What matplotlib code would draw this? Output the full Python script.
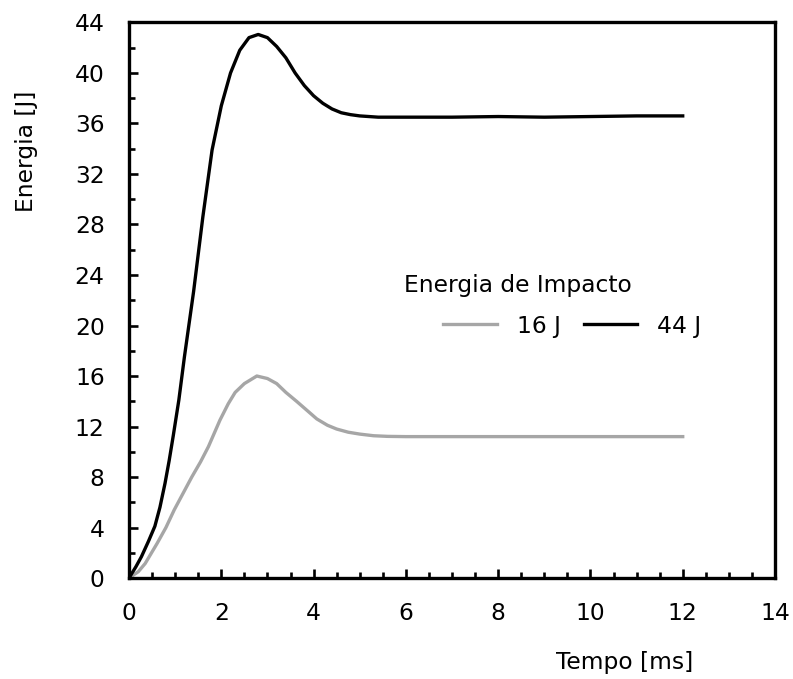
import matplotlib
matplotlib.use("Agg")
import matplotlib.pyplot as plt
from matplotlib.ticker import MultipleLocator

plt.rcParams['font.family'] = ['DejaVu Sans']

# Data
t_44 = [0.0, 0.15, 0.27, 0.42, 0.56, 0.67, 0.78, 0.87, 0.96, 1.08, 1.2, 1.4, 1.6, 1.8,
        2.0, 2.2, 2.4, 2.6, 2.8, 3.0, 3.2, 3.4, 3.6, 3.8, 4.0, 4.2, 4.4, 4.6, 4.8, 5.0,
        5.4, 6.0, 7.0, 8.0, 9.0, 10.0, 11.0, 12.0]
e_44 = [0.0, 0.9, 1.7, 2.9, 4.1, 5.6, 7.5, 9.3, 11.3, 14.1, 17.5, 22.7, 28.6, 33.9,
        37.4, 40.0, 41.8, 42.8, 43.05, 42.8, 42.1, 41.2, 40.0, 39.0, 38.2, 37.6, 37.15, 36.85, 36.7, 36.6,
        36.5, 36.5, 36.5, 36.55, 36.5, 36.55, 36.6, 36.6]

t_16 = [0.0, 0.2, 0.35, 0.61, 0.8, 0.98, 1.17, 1.36, 1.55, 1.72, 1.97, 2.15, 2.3, 2.5,
        2.77, 3.0, 3.2, 3.4, 3.63, 3.85, 4.07, 4.3, 4.5, 4.75, 5.0, 5.3, 5.6, 6.0, 7.0,
        8.0, 9.0, 10.0, 11.0, 12.0]
e_16 = [0.0, 0.5, 1.15, 2.75, 4.0, 5.4, 6.7, 8.0, 9.2, 10.4, 12.5, 13.8, 14.7, 15.4,
        16.0, 15.8, 15.4, 14.7, 14.0, 13.3, 12.6, 12.1, 11.8, 11.55, 11.4, 11.27, 11.22, 11.2, 11.2,
        11.2, 11.2, 11.2, 11.2, 11.2]

x_label = "Tempo [ms]"
y_label = "Energia [J]"
legend_title = "Energia de Impacto"
series_labels = ["16 J", "44 J"]

FS = 16.8

fig = plt.figure(figsize=(7.93, 6.79), dpi=100)
ax = fig.add_axes([0.1627, 0.1487, 0.8146, 0.8182])

l1, = ax.plot(t_16, e_16, color='#a6a6a6', lw=2.4, label=series_labels[0])
l2, = ax.plot(t_44, e_44, color='black', lw=2.4, label=series_labels[1])

ax.set_xlim(0, 14)
ax.set_ylim(0, 44)
ax.xaxis.set_major_locator(MultipleLocator(2))
ax.xaxis.set_minor_locator(MultipleLocator(0.5))
ax.yaxis.set_major_locator(MultipleLocator(4))
ax.yaxis.set_minor_locator(MultipleLocator(2))
ax.tick_params(which='both', direction='in', width=1.9, labelsize=FS)
ax.tick_params(which='major', length=6.5)
ax.tick_params(which='minor', length=4.3)
ax.tick_params(axis='x', which='major', pad=17)
ax.tick_params(axis='y', which='major', pad=17.5)
for s in ax.spines.values():
    s.set_linewidth(2.4)

fig.text(27/793, 1 - 151/679, y_label, rotation=90, ha='center', va='center', fontsize=FS)
fig.text(625/793, 1 - 663/679, x_label, ha='center', va='center', fontsize=FS)

ax.text((404 - 129) / 646, (578 - 285) / 555.5, legend_title, transform=ax.transAxes,
        ha='left', va='center', fontsize=FS)
ax.legend(handles=[l1, l2], loc='center left', bbox_to_anchor=((443 - 129) / 646, (578 - 326) / 555.5),
          ncol=2, frameon=False, fontsize=FS, borderaxespad=0, borderpad=0,
          handlelength=2.3, handletextpad=0.85, columnspacing=1.0)

fig.savefig("out.png", dpi=100)
